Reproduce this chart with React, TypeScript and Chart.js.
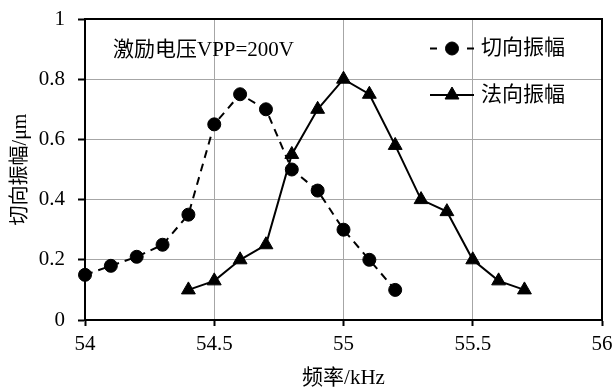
import React, { useEffect, useRef } from 'react';
import { Chart, registerables } from 'chart.js';
import { drawPoint } from 'chart.js/helpers';

Chart.register(...registerables);

// Frequency sweep results (kHz) and measured amplitudes (μm)
const tangentialFreq = [54, 54.1, 54.2, 54.3, 54.4, 54.5, 54.6, 54.7, 54.8, 54.9, 55, 55.1, 55.2];
const tangentialAmp = [0.15, 0.18, 0.21, 0.25, 0.35, 0.65, 0.75, 0.7, 0.5, 0.43, 0.3, 0.2, 0.1];
const normalFreq = [54.4, 54.5, 54.6, 54.7, 54.8, 54.9, 55, 55.1, 55.2, 55.3, 55.4, 55.5, 55.6, 55.7];
const normalAmp = [0.1, 0.13, 0.2, 0.25, 0.55, 0.7, 0.8, 0.75, 0.58, 0.4, 0.36, 0.2, 0.13, 0.1];

const seriesNames = ['切向振幅', '法向振幅'];
const xTickValues = [54, 54.5, 55, 55.5, 56];
const xTickLabels = ['54', '54.5', '55', '55.5', '56'];
const yTickValues = [0, 0.2, 0.4, 0.6, 0.8, 1];
const yTickLabels = ['0', '0.2', '0.4', '0.6', '0.8', '1'];
const xTitle = '频率/kHz';
const yTitle = '切向振幅/μm';
const noteText = '激励电压VPP=200V';

const FONT_FAMILY = "'Liberation Serif', 'Times New Roman', 'Noto Sans CJK SC', serif";
const FONT_SIZE = 21;
const GRID_COLOR = '#a6a6a6';

// Closes the plot box with a black frame on all four sides
const framePlugin = {
  id: 'frame',
  beforeDatasetsDraw(chart: any) {
    const { ctx, chartArea } = chart;
    ctx.save();
    ctx.strokeStyle = '#000';
    ctx.lineWidth = 2;
    ctx.strokeRect(chartArea.left, chartArea.top, chartArea.right - chartArea.left, chartArea.bottom - chartArea.top);
    ctx.restore();
  },
};

// In-plot legend (line sample + marker) and the excitation note
const overlayPlugin = {
  id: 'overlay',
  afterDraw(chart: any) {
    const { ctx } = chart;
    ctx.save();
    ctx.font = `${FONT_SIZE}px ${FONT_FAMILY}`;
    ctx.fillStyle = '#000';
    ctx.textBaseline = 'middle';
    ctx.textAlign = 'left';
    ctx.fillText(noteText, 113, 50);

    const rows = [48.5, 95];
    const x0 = 430;
    const x1 = 474;
    chart.data.datasets.forEach((ds: any, i: number) => {
      const y = rows[i];
      ctx.strokeStyle = ds.borderColor;
      ctx.lineWidth = ds.borderWidth;
      ctx.setLineDash(ds.borderDash && ds.borderDash.length ? [7, 30] : []);
      ctx.beginPath();
      ctx.moveTo(x0, y);
      ctx.lineTo(x1, y);
      ctx.stroke();
      ctx.setLineDash([]);
      ctx.fillStyle = ds.pointBackgroundColor;
      ctx.strokeStyle = ds.pointBorderColor;
      ctx.lineWidth = ds.pointBorderWidth;
      drawPoint(ctx, { pointStyle: ds.pointStyle, radius: ds.pointRadius, borderWidth: ds.pointBorderWidth, rotation: 0 }, (x0 + x1) / 2, y);
      ctx.fillStyle = '#000';
      ctx.fillText(ds.label, 481, y);
    });
    ctx.restore();
  },
};

export default function App() {
  const canvasRef = useRef<HTMLCanvasElement | null>(null);

  useEffect(() => {
    const canvas = canvasRef.current;
    if (!canvas) return;

    const tickFont = { family: FONT_FAMILY, size: FONT_SIZE };

    const chart = new Chart(canvas, {
      type: 'line',
      data: {
        datasets: [
          {
            label: seriesNames[0],
            data: tangentialFreq.map((x, i) => ({ x, y: tangentialAmp[i] })),
            borderColor: '#000',
            borderWidth: 2,
            borderDash: [8, 6],
            pointStyle: 'circle',
            pointRadius: 6.5,
            pointBorderWidth: 1,
            pointBackgroundColor: '#000',
            pointBorderColor: '#000',
            tension: 0,
            clip: false,
          },
          {
            label: seriesNames[1],
            data: normalFreq.map((x, i) => ({ x, y: normalAmp[i] })),
            borderColor: '#000',
            borderWidth: 2,
            pointStyle: 'triangle',
            pointRadius: 8,
            pointBorderWidth: 1,
            pointBackgroundColor: '#000',
            pointBorderColor: '#000',
            tension: 0,
            clip: false,
          },
        ] as any,
      },
      options: {
        responsive: false,
        animation: false,
        layout: { padding: { top: 19, right: 12, left: 0, bottom: 0 } },
        plugins: {
          legend: { display: false },
          tooltip: { enabled: false },
        },
        scales: {
          x: {
            type: 'linear',
            min: xTickValues[0],
            max: xTickValues[xTickValues.length - 1],
            afterBuildTicks: (s: any) => {
              s.ticks = xTickValues.map((value) => ({ value }));
            },
            afterFit: (s: any) => {
              s.height = 67;
              s.paddingLeft = 0;
              s.paddingRight = 0;
            },
            ticks: {
              autoSkip: false,
              maxRotation: 0,
              padding: 6,
              color: '#000',
              font: tickFont,
              callback: (v: any) => xTickLabels[xTickValues.indexOf(Number(v))] ?? '',
            },
            grid: { color: GRID_COLOR, lineWidth: 1, tickLength: 6, tickColor: '#000', tickWidth: 2 },
            border: { color: '#000', width: 2 },
            title: {
              display: true,
              text: xTitle,
              color: '#000',
              font: { family: FONT_FAMILY, size: FONT_SIZE, lineHeight: 0.8 },
              padding: 0,
            },
          },
          y: {
            type: 'linear',
            min: yTickValues[0],
            max: yTickValues[yTickValues.length - 1],
            afterBuildTicks: (s: any) => {
              s.ticks = yTickValues.map((value) => ({ value }));
            },
            afterFit: (s: any) => {
              s.width = 85;
              s.paddingTop = 0;
              s.paddingBottom = 0;
            },
            ticks: {
              autoSkip: false,
              padding: 13,
              color: '#000',
              font: tickFont,
              callback: (v: any) => yTickLabels[yTickValues.indexOf(Number(v))] ?? '',
            },
            grid: { color: GRID_COLOR, lineWidth: 1, tickLength: 7, tickColor: '#000', tickWidth: 2 },
            border: { color: '#000', width: 2 },
            title: {
              display: true,
              text: yTitle,
              color: '#000',
              font: { family: FONT_FAMILY, size: 20 },
              padding: { top: 9, bottom: 0 },
            },
          },
        },
      } as any,
      plugins: [framePlugin, overlayPlugin],
    });

    return () => chart.destroy();
  }, []);

  return (
    <div style={{ position: 'absolute', left: 0, top: 0, width: 614, height: 387, background: '#fff' }}>
      <canvas ref={canvasRef} width={614} height={387} style={{ display: 'block' }} />
    </div>
  );
}
